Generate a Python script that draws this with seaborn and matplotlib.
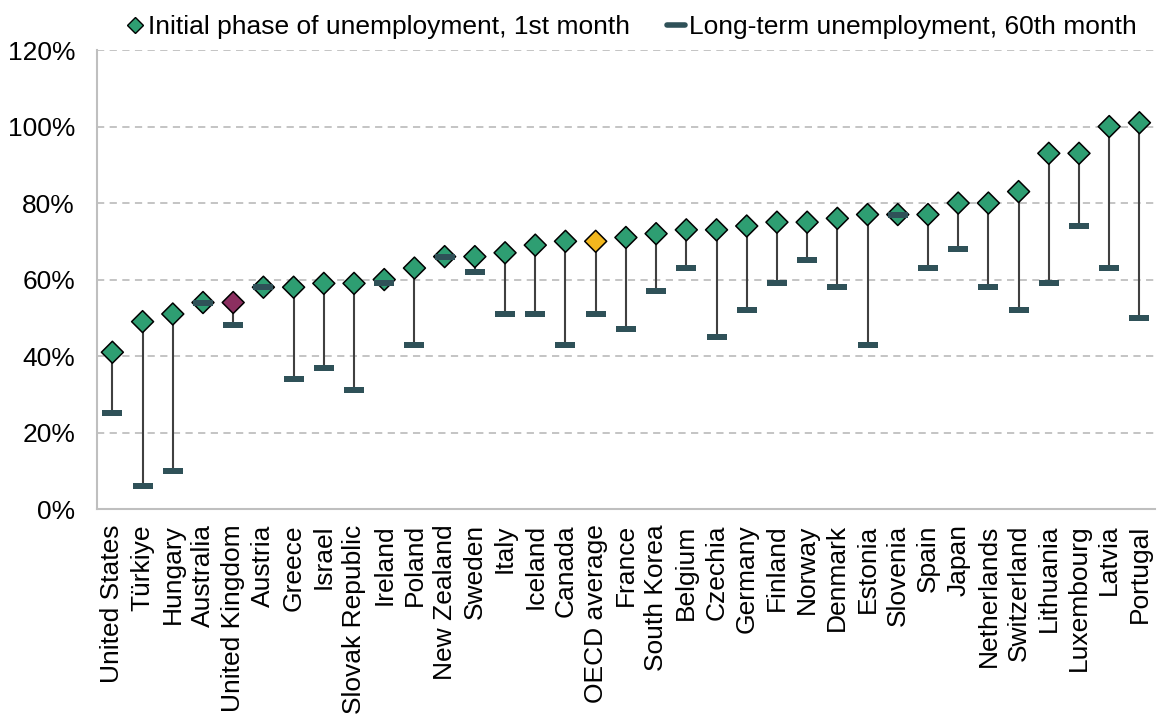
import numpy as np
import matplotlib.pyplot as plt
import seaborn as sns
import pandas as pd
from matplotlib.ticker import FixedLocator, PercentFormatter

countries = ["United States", "Türkiye", "Hungary", "Australia", "United Kingdom", "Austria",
             "Greece", "Israel", "Slovak Republic", "Ireland", "Poland", "New Zealand", "Sweden",
             "Italy", "Iceland", "Canada", "OECD average", "France", "South Korea", "Belgium",
             "Czechia", "Germany", "Finland", "Norway", "Denmark", "Estonia", "Slovenia", "Spain",
             "Japan", "Netherlands", "Switzerland", "Lithuania", "Luxembourg", "Latvia", "Portugal"]
initial = [41, 49, 51, 54, 54, 58, 58, 59, 59, 60, 63, 66, 66, 67, 69, 70, 70, 71, 72, 73,
           73, 74, 75, 75, 76, 77, 77, 77, 80, 80, 83, 93, 93, 100, 101]
long_term = [25, 6, 10, 54, 48, 58, 34, 37, 31, 59, 43, 66, 62, 51, 51, 43, 51, 47, 57, 63,
             45, 52, 59, 65, 58, 43, 77, 63, 68, 58, 52, 59, 74, 63, 50]

GREEN = "#2E9E72"
UK_COL = "#8C2F60"
OECD_COL = "#F2B71E"
BAR_COL = "#2F5158"
AXIS_GREY = "#BFBFBF"

df = pd.DataFrame({"country": countries, "initial": initial, "long_term": long_term})
df["group"] = df["country"].map({"United Kingdom": "uk", "OECD average": "oecd"}).fillna("other")

sns.set_style("white")
plt.rcParams["font.family"] = ["Liberation Sans", "DejaVu Sans"]
plt.rcParams["text.color"] = "black"
plt.rcParams["xtick.labelcolor"] = "black"
plt.rcParams["ytick.labelcolor"] = "black"

fig, ax = plt.subplots(figsize=(11.58, 7.15), dpi=100)
fig.subplots_adjust(left=0.084, right=0.997, bottom=0.288, top=0.930)

# connecting lines
ax.vlines(df["country"], df["long_term"], df["initial"], color="#404040", lw=1.5, zorder=1)

sns.scatterplot(data=df, x="country", y="initial", hue="group",
                palette={"other": GREEN, "uk": UK_COL, "oecd": OECD_COL},
                marker="D", s=125, edgecolor="black", linewidth=1.1, legend=False, zorder=3, ax=ax)

bar_marker = [(-2.0, -0.55), (2.0, -0.55), (2.0, 0.55), (-2.0, 0.55), (-2.0, -0.55)]
sns.scatterplot(data=df, x="country", y="long_term", color=BAR_COL, marker=bar_marker,
                s=210, linewidth=0, legend=False, zorder=4, ax=ax)

n = len(countries)
ax.set_xlim(-0.5, n - 0.5)
ax.set_ylim(0, 120)
ax.set_yticks(np.arange(0, 121, 20))
ax.yaxis.set_major_formatter(PercentFormatter(decimals=0))
ax.grid(axis="y", color=AXIS_GREY, ls=(0, (4, 3)), lw=1.3)
ax.set_axisbelow(True)
ax.set_xlabel("")
ax.set_ylabel("")

ax.tick_params(axis="x", which="major", length=0, labelsize=19, rotation=90, pad=11)
ax.xaxis.set_minor_locator(FixedLocator(np.arange(-0.5, n, 1)))
ax.tick_params(axis="x", which="minor", length=6, width=1.5, color=AXIS_GREY, direction="out")
ax.tick_params(axis="y", length=4, width=1.5, color=AXIS_GREY, labelsize=19, pad=12)
for side in ["top", "right"]:
    ax.spines[side].set_visible(False)
for side in ["left", "bottom"]:
    ax.spines[side].set_color(AXIS_GREY)
    ax.spines[side].set_linewidth(1.5)

handles = [
    plt.Line2D([], [], marker="D", color="none", markerfacecolor=GREEN, markeredgecolor="black",
               markersize=8, label="Initial phase of unemployment, 1st month"),
    plt.Line2D([], [], color=BAR_COL, lw=4, label="Long-term unemployment, 60th month"),
]
fig.legend(handles=handles, loc="upper center", bbox_to_anchor=(0.545, 1.012), ncol=2, frameon=False,
           fontsize=19, handlelength=0.7, handletextpad=0.15, columnspacing=1.4)

fig.savefig("out.png", dpi=100)
